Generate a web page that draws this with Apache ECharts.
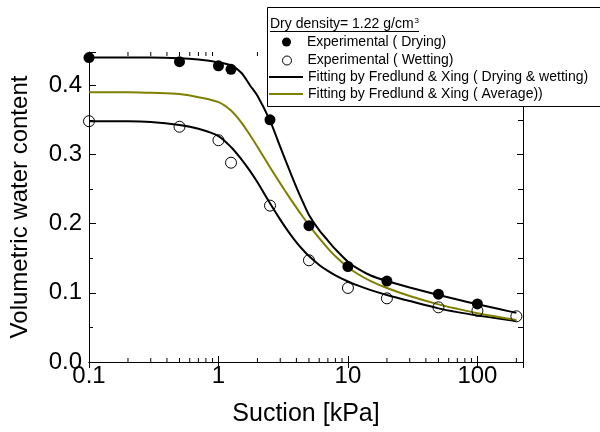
<!DOCTYPE html>
<html>
<head>
<meta charset="utf-8">
<script src="https://cdn.jsdelivr.net/npm/echarts@6/dist/echarts.min.js"></script>
<style>
html,body{margin:0;padding:0;background:#fff;}
#chart{width:600px;height:432px;}
</style>
</head>
<body>
<div id="chart"></div>
<script>
// ---- data ----
const suctionExp = [0.1, 0.5, 1, 1.25, 2.5, 5, 10, 20, 50, 100];
const dryingExp  = [0.440, 0.434, 0.428, 0.423, 0.350, 0.197, 0.138, 0.117, 0.098, 0.084];
const suctionWet = [0.1, 0.5, 1, 1.25, 2.5, 5, 10, 20, 50, 100, 200];
const wettingExp = [0.348, 0.340, 0.3205, 0.288, 0.226, 0.147, 0.107, 0.092, 0.079, 0.074, 0.066];

const suctionFit = [0.1,0.2,0.3,0.5,0.7,1,1.25,1.5,1.75,2,2.5,3,3.5,4,4.5,5,6,7,8,10,12,15,20,30,50,70,100,150,200];
const dryingFit  = [.440,.440,.440,.439,.437,.433,.4285,.418,.400,.3847,.3487,.3109,.2790,.2524,.2306,.2126,.1905,.1755,.1630,.1450,.1345,.1250,.1170,.1077,.0969,.0902,.0834,.0761,.0710];
const wettingFit = [.348,.348,.347,.3425,.337,.3266,.3106,.2931,.2762,.2598,.2294,.2058,.1873,.1730,.1619,.1531,.1403,.1316,.1252,.1163,.1103,.1039,.0969,.0881,.0775,.0721,.0673,.0625,.0593];
const averageFit = [.390,.390,.389,.3873,.3826,.3755,.3633,.3463,.3280,.3110,.2814,.2581,.2390,.2231,.2095,.1978,.1789,.1643,.1528,.1368,.1268,.1170,.1070,.0954,.0833,.0768,.0706,.0648,.0607];

const xMinorTicks = [0.2,0.3,0.4,0.5,0.6,0.7,0.8,0.9,2,3,4,5,6,7,8,9,20,30,40,50,60,70,80,90,200];
const xMin = 0.1, xMax = 225;
const yMin = 0, yMax = 0.448;

const nameDry = 'Experimental ( Drying)';
const nameWet = 'Experimental ( Wetting)';
const nameFit = 'Fitting by Fredlund & Xing ( Drying & wetting)';
const nameAvg = 'Fitting by Fredlund & Xing ( Average))';

const FONT = '"Liberation Sans", Arial, sans-serif';
const zip = (xs, ys) => xs.map((x, i) => [x, ys[i]]);

const chart = echarts.init(document.getElementById('chart'));

function legendLine(name, centerY) {
  return {
    data: [name], orient: 'vertical', left: 269, top: centerY - 7, padding: 0,
    icon: 'rect', itemWidth: 34, itemHeight: 2, itemGap: 0, z: 200, selectedMode: false,
    textStyle: { fontFamily: FONT, fontSize: 14, color: '#000', lineHeight: 14 }
  };
}
function legendDot(name, centerY, filled) {
  return {
    data: [name], orient: 'vertical', left: 282, top: centerY - 7, padding: 0,
    icon: 'circle', itemWidth: 9, itemHeight: 9, itemGap: 0, z: 200, selectedMode: false,
    itemStyle: filled ? { color: '#000', borderWidth: 0 }
                      : { color: 'rgba(255,255,255,0)', borderColor: '#000', borderWidth: 1 },
    textStyle: { fontFamily: FONT, fontSize: 14, color: '#000', lineHeight: 14, padding: [0, 0, 0, 11] }
  };
}

const lineCommon = { type: 'line', symbol: 'none', smooth: 0.3, z: 4 };

const option = {
  animation: false,
  backgroundColor: '#fff',
  grid: { left: 89, right: 77, top: 52, bottom: 63, containLabel: false },
  xAxis: [{
    type: 'log', logBase: 10, min: xMin, max: xMax, position: 'bottom',
    name: 'Suction [kPa]', nameLocation: 'middle', nameGap: 40,
    nameTextStyle: { fontFamily: FONT, fontSize: 25, color: '#000' },
    axisLine: { show: true, lineStyle: { color: '#000', width: 1 } },
    axisTick: { show: true, inside: true, length: 6, lineStyle: { color: '#000' } },
    axisLabel: { fontFamily: FONT, fontSize: 24, color: '#000', margin: 2, showMaxLabel: false,
      formatter: v => String(+v.toPrecision(3)) },
    splitLine: { show: false }
  }, {
    type: 'log', logBase: 10, min: xMin, max: xMax, position: 'top',
    axisLine: { show: true, lineStyle: { color: '#000', width: 1 } },
    axisTick: { show: true, inside: true, length: 6, lineStyle: { color: '#000' } },
    axisLabel: { show: false }, splitLine: { show: false }
  }],
  yAxis: [{
    type: 'value', min: yMin, max: yMax, interval: 0.1, position: 'left',
    name: 'Volumetric water content', nameLocation: 'middle', nameGap: 57,
    nameTextStyle: { fontFamily: FONT, fontSize: 24, color: '#000' },
    axisLine: { show: true, lineStyle: { color: '#000', width: 1 } },
    axisTick: { show: true, inside: true, length: 7, lineStyle: { color: '#000' } },
    minorTick: { show: true, splitNumber: 2, length: 4, lineStyle: { color: '#000' } },
    axisLabel: { fontFamily: FONT, fontSize: 24, color: '#000', margin: 7, showMaxLabel: false,
      formatter: v => v.toFixed(1) },
    splitLine: { show: false }
  }, {
    type: 'value', min: yMin, max: yMax, interval: 0.1, position: 'right',
    axisLine: { show: true, lineStyle: { color: '#000', width: 1 } },
    axisTick: { show: true, inside: true, length: 6, lineStyle: { color: '#000' } },
    minorTick: { show: true, splitNumber: 2, length: 5, lineStyle: { color: '#000' } },
    axisLabel: { show: false }, splitLine: { show: false }
  }],
  legend: [
    legendDot(nameDry, 42, true),
    legendDot(nameWet, 60.5, false),
    legendLine(nameFit, 77),
    legendLine(nameAvg, 94)
  ],
  graphic: [
    { type: 'rect', z: 150, shape: { x: 267.5, y: 7.5, width: 340, height: 99 },
      style: { fill: '#fff', stroke: '#000', lineWidth: 1 } },
    { type: 'text', z: 201, x: 270, y: 24.5,
      style: { text: 'Dry density= 1.22 g/cm', fontFamily: FONT, fontSize: 14, fill: '#000', verticalAlign: 'middle' } },
    { type: 'text', z: 201, x: 414.5, y: 20.5,
      style: { text: '3', fontFamily: FONT, fontSize: 8, fill: '#000', verticalAlign: 'middle' } },
    { type: 'line', z: 201, shape: { x1: 270, y1: 31.5, x2: 419, y2: 31.5 },
      style: { stroke: '#000', lineWidth: 1 } }
  ],
  series: [
    {
      type: 'custom', silent: true, xAxisIndex: 0, yAxisIndex: 0, z: 3,
      data: xMinorTicks.map(v => [v, 0]),
      encode: { x: 0, y: 1 },
      renderItem: function (params, api) {
        const v = api.value(0);
        const b = api.coord([v, yMin]);
        const t = api.coord([v, yMax]);
        return { type: 'group', children: [
          { type: 'line', shape: { x1: b[0], y1: b[1], x2: b[0], y2: b[1] - 4 }, style: { stroke: '#000', lineWidth: 1 } },
          { type: 'line', shape: { x1: t[0], y1: t[1], x2: t[0], y2: t[1] + 4 }, style: { stroke: '#000', lineWidth: 1 } }
        ]};
      }
    },
    Object.assign({ name: nameFit, data: zip(suctionFit, dryingFit),
      lineStyle: { color: '#000', width: 2 }, itemStyle: { color: '#000' } }, lineCommon),
    Object.assign({ name: nameFit, data: zip(suctionFit, wettingFit),
      lineStyle: { color: '#000', width: 2 }, itemStyle: { color: '#000' } }, lineCommon),
    Object.assign({ name: nameAvg, data: zip(suctionFit, averageFit),
      lineStyle: { color: '#808000', width: 2 }, itemStyle: { color: '#808000' } }, lineCommon),
    { name: nameDry, type: 'scatter', data: zip(suctionExp, dryingExp), symbol: 'circle', symbolSize: 11,
      itemStyle: { color: '#000', opacity: 1 }, z: 5 },
    { name: nameWet, type: 'scatter', data: zip(suctionWet, wettingExp), symbol: 'circle', symbolSize: 11,
      itemStyle: { color: 'rgba(255,255,255,0)', borderColor: '#000', borderWidth: 1, opacity: 1 }, z: 5 }
  ]
};
chart.setOption(option);
</script>
</body>
</html>
